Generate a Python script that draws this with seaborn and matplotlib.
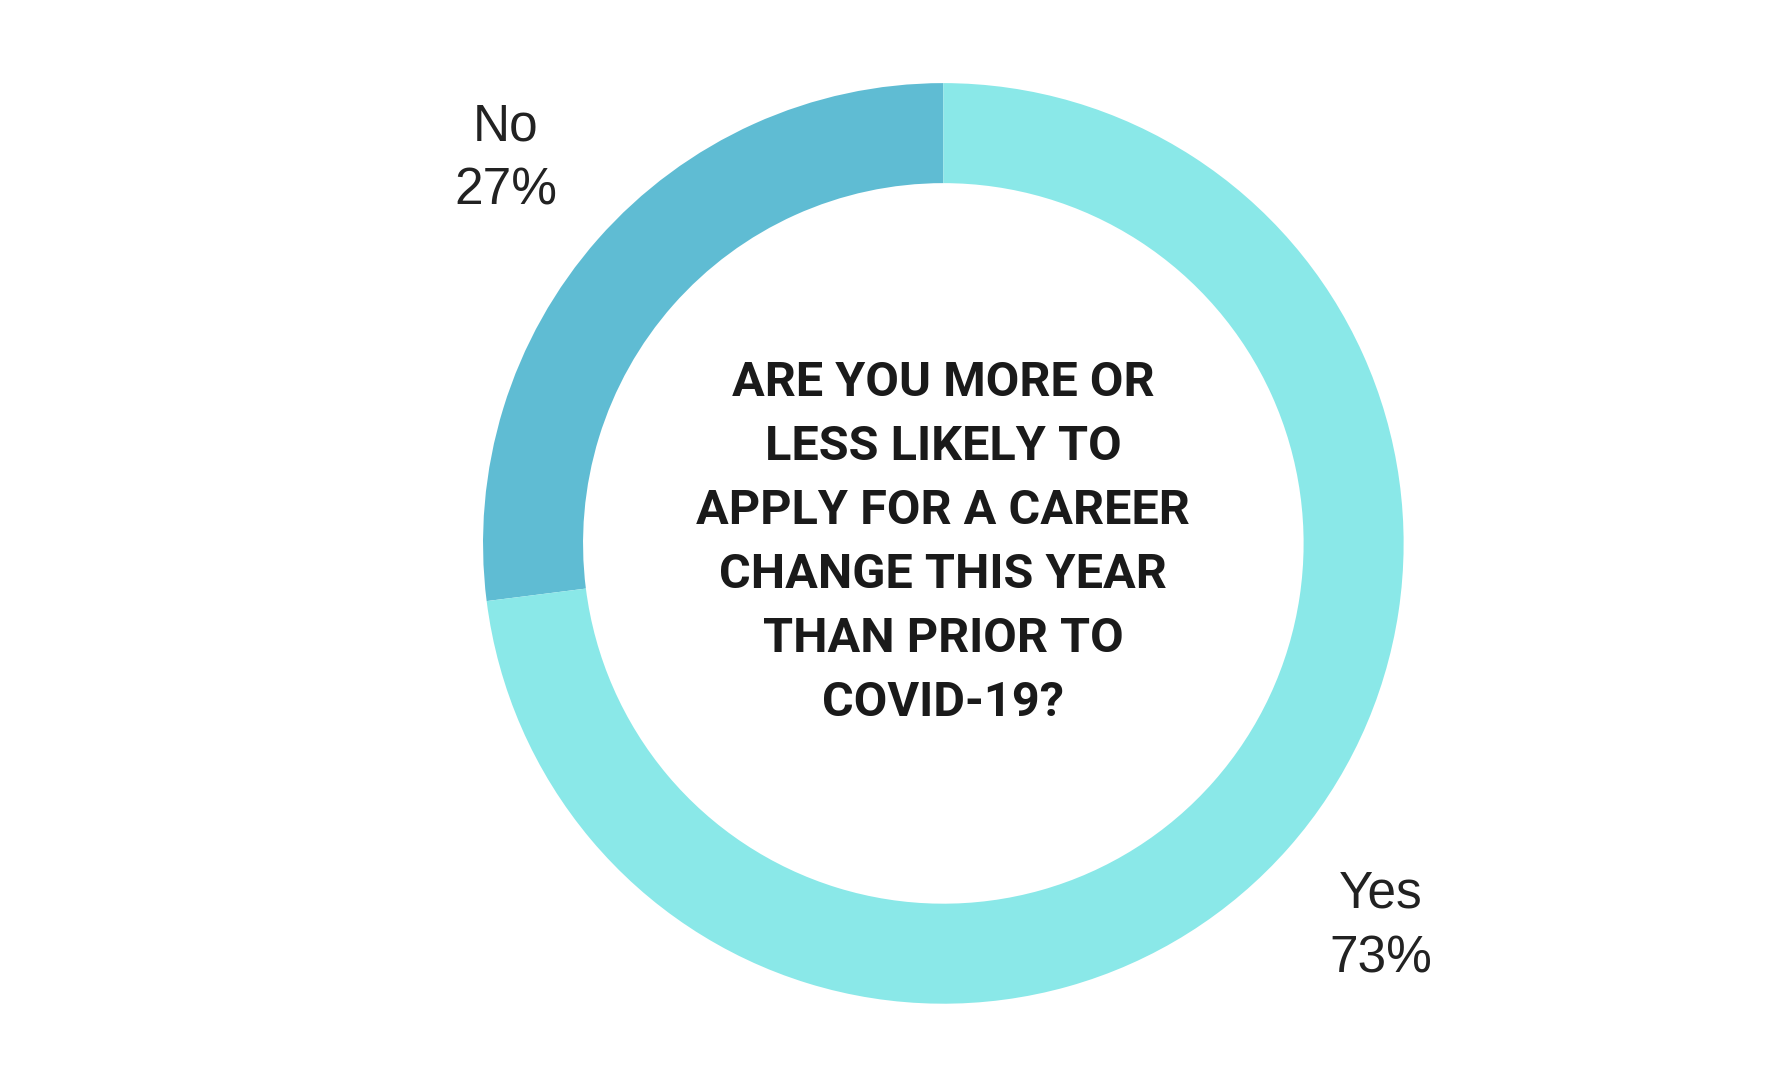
import matplotlib
matplotlib.use("Agg")
import matplotlib.pyplot as plt
import seaborn as sns

sns.set_theme(style="white")
plt.rcParams["font.family"] = ["Liberation Sans", "DejaVu Sans"]

labels = ["No", "Yes"]
shares = [27, 73]
colors = ["#5FBCD3", "#8AE8E8"]
question = "ARE YOU MORE OR\nLESS LIKELY TO\nAPPLY FOR A CAREER\nCHANGE THIS YEAR\nTHAN PRIOR TO\nCOVID-19?"

W, H = 1560, 950
fig = plt.figure(figsize=(17.73, 10.8), dpi=100)
ax = fig.add_axes([0, 0, 1, 1])
ax.set_xlim(0, W)
ax.set_ylim(0, H)
ax.set_aspect("equal")
ax.axis("off")

cx, cy, r = 830, H - 478, 405
ax.pie(shares, colors=colors, startangle=90, counterclock=True,
       center=(cx, cy), radius=r, frame=True,
       wedgeprops=dict(width=88, linewidth=0))
ax.set_xlim(0, W)
ax.set_ylim(0, H)
ax.axis("off")

ax.text(cx, cy, question, ha="center", va="center", fontsize=35,
        fontweight="bold", color="#1a1a1a", linespacing=1.5,
        family=["Roboto", "DejaVu Sans"])

label_pos = [(445, H - 140), (1215, H - 815)]
for (x, y), lab, val in zip(label_pos, labels, shares):
    ax.text(x, y, f"{lab}\n{val}%", ha="center", va="center",
            fontsize=37, color="#222222", linespacing=1.4)

fig.savefig("out.png", dpi=100, facecolor="white")
